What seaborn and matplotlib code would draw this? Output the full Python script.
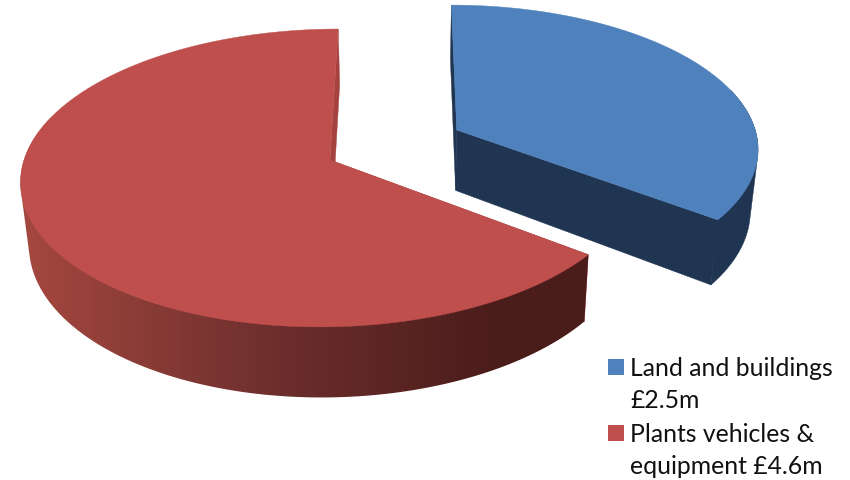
import numpy as np
import matplotlib
matplotlib.use('Agg')
import matplotlib.pyplot as plt
from matplotlib.patches import Polygon
import seaborn as sns

# Chart data
labels = ['Land and buildings\n£2.5m', 'Plants vehicles &\nequipment £4.6m']
values = [2.5, 4.6]
explode = [0.468, 0]
top_colors = ['#4F81BD', '#BE4F4C']
side_colors = ['#1F3552', '#A5413F']

sns.set_theme(style='white')
plt.rcParams['font.family'] = ['Lato', 'DejaVu Sans']

fig = plt.figure(figsize=(8.5, 4.8), dpi=100)
ax = fig.add_axes([0, 0, 1, 1])

# The pie works out the angles and the explode offset, the 3D look is drawn from them
wedges, _ = ax.pie(values, explode=explode, startangle=90, counterclock=False, radius=1)
slices = [(w.center, w.r, w.theta1, w.theta2) for w in wedges]
for w in wedges:
    w.remove()

# Perspective camera, in pixels
RADIUS = 306
VANISH_X, VANISH_Y = 406, -1055
HEIGHT = 1215
DEPTH = 62
TILT = 0.1208
RED_X = -76
BOTTOM_SHRINK = 0.978


def project(x, y, bottom=False):
    x = np.asarray(x, dtype=float)
    y = np.asarray(y, dtype=float)
    w = 1 + TILT * y
    px = (RED_X + RADIUS * x) / w
    py = (HEIGHT + (DEPTH if bottom else 0)) / w
    if bottom:
        px = px * BOTTOM_SHRINK
    return np.column_stack([VANISH_X + px, VANISH_Y + py])


def convex_hull(points):
    pts = sorted(map(tuple, points))
    def half(seq):
        out = []
        for p in seq:
            while len(out) > 1 and np.cross(np.subtract(out[-1], out[-2]), np.subtract(p, out[-1])) <= 0:
                out.pop()
            out.append(p)
        return out[:-1]
    return np.array(half(pts) + half(pts[::-1]))


wall_cmap = sns.blend_palette(['#A5483F', '#70302E', '#4A1C1A'], 256, as_cmap=True)

for i, (center, r, t1, t2) in enumerate(slices):
    angles = np.radians(np.linspace(t1, t2, 300))
    arc_x = center[0] + r * np.cos(angles)
    arc_y = center[1] + r * np.sin(angles)

    # straight cut faces
    for k in (0, -1):
        quad = np.vstack([project(center[0], center[1]),
                          project(arc_x[k], arc_y[k]),
                          project(arc_x[k], arc_y[k], True),
                          project(center[0], center[1], True)])
        ax.add_patch(Polygon(quad, closed=True, fc=side_colors[i], ec=side_colors[i], lw=0.3, zorder=2))

    # outer wall, only the front of the arc shows so its hull is enough
    top_arc = project(arc_x, arc_y)
    low_arc = project(arc_x, arc_y, True)
    front = np.sin(angles) < 0.3
    outline = convex_hull(np.vstack([top_arc[front], low_arc[front]]))
    if i == 0:
        ax.add_patch(Polygon(outline, closed=True, fc=side_colors[0], ec=side_colors[0], lw=0.3, zorder=2))
    else:
        # the red one has a left to right gradient
        wall = Polygon(outline, closed=True, fc='none', ec='none', transform=ax.transData)
        ax.add_patch(wall)
        shade = np.clip((np.linspace(0, 850, 850) - 20) / 480, 0, 1)
        image = ax.imshow(shade[np.newaxis, :], cmap=wall_cmap, extent=(0, 850, 480, 0),
                          aspect='auto', zorder=2, vmin=0, vmax=1)
        image.set_clip_path(wall)

    # top face
    top = np.vstack([project(center[0], center[1]), top_arc])
    ax.add_patch(Polygon(top, closed=True, fc=top_colors[i], ec=top_colors[i], lw=0.3, zorder=3))

ax.set_aspect('auto')
ax.set_xlim(0, 850)
ax.set_ylim(480, 0)
ax.axis('off')

# Legend, the square sits on the first line of each label
legend_y = [367, 433]
for label, color, y in zip(labels, top_colors, legend_y):
    ax.scatter([616], [y], marker='s', s=125, color=color, linewidths=0, zorder=4)
    ax.text(630, y - 10, label, fontsize=17.8, color='#111111', va='top', ha='left',
            linespacing=1.5, zorder=4)

fig.savefig('out.png', dpi=100, facecolor='white')
